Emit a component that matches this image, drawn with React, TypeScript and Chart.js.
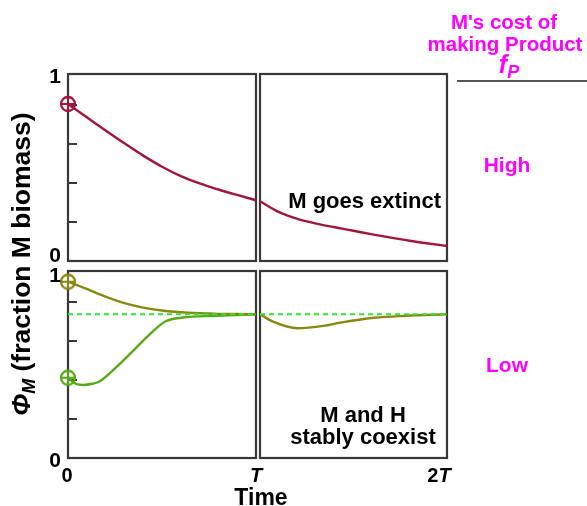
import React, { useEffect, useRef } from "react";
import { Chart, registerables } from "chart.js";

Chart.register(...registerables);

// ---- data (time in units of T, phi_M = fraction of M biomass; top of each panel labelled "1") ----
const Y_TOP = 0.96;
const MINOR_TICKS = [0.2, 0.4, 0.6, 0.8];

// High cost of making product: M goes extinct
const TIME_HIGH_1 = [0, 0.1, 0.2, 0.3, 0.4, 0.5, 0.6, 0.7, 0.8, 0.9, 1.0];
const PHI_HIGH_1 = [0.806, 0.738, 0.67, 0.604, 0.541, 0.484, 0.436, 0.398, 0.367, 0.339, 0.312];
const TIME_HIGH_2 = [1.0, 1.1, 1.2, 1.3, 1.4, 1.5, 1.6, 1.7, 1.8, 1.9, 2.0];
const PHI_HIGH_2 = [0.307, 0.252, 0.216, 0.192, 0.173, 0.155, 0.137, 0.12, 0.104, 0.09, 0.077];

// Low cost: M and H stably coexist
const TIME_LOW_A_1 = [0, 0.1, 0.2, 0.3, 0.4, 0.5, 0.6, 0.7, 0.8, 0.9, 1.0];
const PHI_LOW_A_1 = [0.905, 0.868, 0.828, 0.795, 0.772, 0.757, 0.748, 0.743, 0.74, 0.739, 0.738];
const TIME_LOW_B_1 = [0, 0.04, 0.08, 0.13, 0.17, 0.26, 0.35, 0.44, 0.52, 0.61, 0.79, 1.0];
const PHI_LOW_B_1 = [0.412, 0.382, 0.375, 0.381, 0.394, 0.469, 0.554, 0.64, 0.702, 0.721, 0.73, 0.738];
const TIME_LOW_2 = [1.0, 1.07, 1.2, 1.34, 1.43, 1.61, 1.78, 2.0];
const PHI_LOW_2 = [0.738, 0.7, 0.666, 0.678, 0.695, 0.72, 0.73, 0.738];

const STEADY_LEVEL = 0.738;

const C_HIGH = "#a0163c";
const C_OLIVE = "#888812";
const C_GREEN = "#58a81a";
const C_DASH = "#2ee62e";
const C_BORDER = "#383838";
const MAGENTA = "#ff00ff";
const FONT = "'Liberation Sans', Arial, Helvetica, sans-serif";

const pts = (xs: number[], ys: number[]) => xs.map((x, i) => ({ x, y: ys[i] }));

function makeMarker(color: string): HTMLCanvasElement {
  const c = document.createElement("canvas");
  c.width = 20;
  c.height = 20;
  const g = c.getContext("2d")!;
  g.strokeStyle = color;
  g.lineWidth = 2.3;
  g.beginPath();
  g.arc(10, 10, 7, 0, Math.PI * 2);
  g.stroke();
  g.lineWidth = 2;
  g.beginPath();
  g.moveTo(3, 10);
  g.lineTo(17, 10);
  g.moveTo(10, 3);
  g.lineTo(10, 17);
  g.stroke();
  return c;
}

const panelPlugin = {
  id: "panels",
  beforeDatasetsDraw(chart: any) {
    const ctx = chart.ctx;
    const s = chart.scales;
    ctx.save();
    ctx.strokeStyle = C_BORDER;
    ctx.lineWidth = 2.2;
    const cols: [any, number, number][] = [
      [s.xL, 0, 1],
      [s.xR, 1, 2],
    ];
    for (const [xs, a, b] of cols) {
      for (const ys of [s.yT, s.yB]) {
        const l = xs.getPixelForValue(a);
        const r = xs.getPixelForValue(b);
        const t = ys.getPixelForValue(Y_TOP);
        const bt = ys.getPixelForValue(0);
        ctx.strokeRect(l, t, r - l, bt - t);
      }
    }
    const x0 = s.xL.getPixelForValue(0);
    ctx.lineWidth = 2;
    for (const ys of [s.yT, s.yB]) {
      for (const v of MINOR_TICKS) {
        const y = Math.round(ys.getPixelForValue(v));
        ctx.beginPath();
        ctx.moveTo(x0, y);
        ctx.lineTo(x0 + 9, y);
        ctx.stroke();
      }
    }
    ctx.restore();
  },
};

function Txt(props: {
  x: number;
  base: number;
  fs: number;
  align?: "left" | "center" | "right";
  color?: string;
  italic?: boolean;
  children: React.ReactNode;
}) {
  const { x, base, fs, align = "left", color = "#000", italic = false, children } = props;
  const tx = align === "center" ? "-50%" : align === "right" ? "-100%" : "0";
  return (
    <div
      style={{
        position: "absolute",
        left: x,
        top: base - 0.8465 * fs,
        transform: `translateX(${tx})`,
        fontFamily: FONT,
        fontWeight: "bold",
        fontStyle: italic ? "italic" : "normal",
        fontSize: fs,
        lineHeight: `${fs}px`,
        color,
        whiteSpace: "nowrap",
        textAlign: align,
      }}
    >
      {children}
    </div>
  );
}

const Sub = (p: { children: React.ReactNode; size?: string }) => (
  <span style={{ fontStyle: "italic", fontSize: p.size || "0.68em", position: "relative", top: "0.28em" }}>
    {p.children}
  </span>
);

export default function App() {
  const ref = useRef<HTMLCanvasElement | null>(null);

  useEffect(() => {
    if (!ref.current) return;
    const line = (data: any[], color: string, xAxisID: string, yAxisID: string, order: number) => ({
      type: "line",
      data,
      xAxisID,
      yAxisID,
      borderColor: color,
      borderWidth: 2.4,
      pointRadius: 0,
      fill: false,
      cubicInterpolationMode: "monotone",
      clip: false,
      order,
    });
    const marker = (x: number, y: number, color: string, yAxisID: string) => ({
      type: "line",
      data: [{ x, y }],
      xAxisID: "xL",
      yAxisID,
      showLine: false,
      pointStyle: makeMarker(color),
      pointRadius: 8,
      clip: false,
      order: 0,
    });
    const dash = (xa: number, xb: number, xAxisID: string) => ({
      type: "line",
      data: [
        { x: xa, y: STEADY_LEVEL },
        { x: xb, y: STEADY_LEVEL },
      ],
      xAxisID,
      yAxisID: "yB",
      borderColor: C_DASH,
      borderWidth: 2,
      borderDash: [5, 4],
      pointRadius: 0,
      clip: false,
      order: 1,
    });

    const chart = new Chart(ref.current, {
      type: "line",
      data: {
        datasets: [
          marker(TIME_HIGH_1[0], PHI_HIGH_1[0], C_HIGH, "yT"),
          marker(TIME_LOW_A_1[0], PHI_LOW_A_1[0], C_OLIVE, "yB"),
          marker(TIME_LOW_B_1[0], PHI_LOW_B_1[0], C_GREEN, "yB"),
          dash(0, 1, "xL"),
          dash(1, 2, "xR"),
          line(pts(TIME_HIGH_1, PHI_HIGH_1), C_HIGH, "xL", "yT", 2),
          line(pts(TIME_HIGH_2, PHI_HIGH_2), C_HIGH, "xR", "yT", 2),
          line(pts(TIME_LOW_A_1, PHI_LOW_A_1), C_OLIVE, "xL", "yB", 2),
          line(pts(TIME_LOW_B_1, PHI_LOW_B_1), C_GREEN, "xL", "yB", 3),
          line(pts(TIME_LOW_2, PHI_LOW_2), C_OLIVE, "xR", "yB", 2),
        ] as any,
      },
      options: {
        animation: false,
        responsive: false,
        devicePixelRatio: 1,
        events: [],
        layout: { padding: { left: 68, top: 74, right: 140, bottom: 48 } },
        plugins: { legend: { display: false }, tooltip: { enabled: false }, title: { display: false } },
        scales: {
          xL: { type: "linear", position: "bottom", stack: "x", weight: 0, min: 0, max: 1.008, display: false },
          xR: { type: "linear", position: "bottom", stack: "x", weight: 1, min: 0.9866, max: 2, display: false },
          yT: { type: "linear", position: "left", stack: "y", weight: 1, min: -0.0257, max: Y_TOP, display: false },
          yB: { type: "linear", position: "left", stack: "y", weight: 0, min: 0, max: 0.9857, display: false },
        } as any,
      },
      plugins: [panelPlugin],
    });
    return () => chart.destroy();
  }, []);

  return (
    <div style={{ position: "absolute", left: 0, top: 0, width: 587, height: 506, background: "#fff", overflow: "hidden" }}>
      <canvas ref={ref} width={587} height={506} style={{ position: "absolute", left: 0, top: 0 }} />

      {/* y tick labels */}
      <Txt x={61} base={83} fs={21} align="right">1</Txt>
      <Txt x={61} base={262} fs={21} align="right">0</Txt>
      <Txt x={61} base={282} fs={21} align="right">1</Txt>
      <Txt x={61} base={467} fs={21} align="right">0</Txt>

      {/* x tick labels */}
      <Txt x={67} base={482} fs={20} align="center">0</Txt>
      <Txt x={256} base={482} fs={20} align="center" italic>T</Txt>
      <Txt x={439} base={482} fs={20} align="center">
        2<i>T</i>
      </Txt>
      <Txt x={261} base={505} fs={23} align="center">Time</Txt>

      {/* y axis title */}
      <div
        style={{
          position: "absolute",
          left: 23,
          top: 264,
          transform: "translate(-50%, -50%) rotate(-90deg)",
          fontFamily: FONT,
          fontWeight: "bold",
          fontSize: 26.5,
          lineHeight: "27px",
          whiteSpace: "nowrap",
          color: "#000",
        }}
      >
        <i>Φ</i>
        <Sub>M</Sub> (fraction M biomass)
      </div>

      {/* annotations */}
      <Txt x={441} base={209} fs={22} align="right">M goes extinct</Txt>
      <Txt x={363} base={423} fs={22} align="center">M and H</Txt>
      <Txt x={363} base={445} fs={22} align="center">stably coexist</Txt>

      {/* right-hand legend */}
      <Txt x={504} base={29} fs={20.5} align="center" color={MAGENTA}>M's cost of</Txt>
      <Txt x={505} base={51} fs={20.5} align="center" color={MAGENTA}>making Product</Txt>
      <Txt x={509} base={73} fs={25} align="center" color={MAGENTA}>
        <i>f</i>
        <Sub size="0.72em">P</Sub>
      </Txt>
      <div style={{ position: "absolute", left: 457, top: 80, width: 130, height: 2, background: "#555" }} />
      <Txt x={507} base={172} fs={21} align="center" color={MAGENTA}>High</Txt>
      <Txt x={507} base={372} fs={21} align="center" color={MAGENTA}>Low</Txt>
    </div>
  );
}
